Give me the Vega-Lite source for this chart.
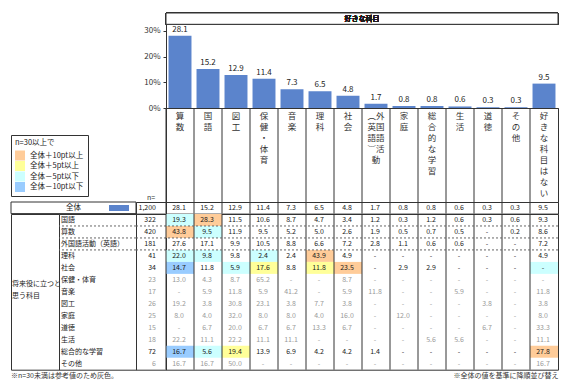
{
  "$schema": "https://vega.github.io/schema/vega-lite/v6.json",
  "padding": {"left": 10, "top": 12, "right": 5, "bottom": 2},
  "columns": 4,
  "spacing": 0,
  "bounds": "flush",
  "align": "each",
  "config": {
    "view": {"stroke": null},
    "font": "Noto Sans CJK JP",
    "text": {"fontSize": 7, "fill": "#1a1a1a"},
    "title": {"fontSize": 7, "fontWeight": "normal", "color": "#333"},
    "legend": {"labelFontSize": 7.5, "titleFontSize": 7.5, "titleFontWeight": "normal", "labelColor": "#222", "titleColor": "#222"}
  },
  "datasets": {
    "subjects": [
      {"subject": "算数", "pct": 28.1},
      {"subject": "国語", "pct": 15.2},
      {"subject": "図工", "pct": 12.9},
      {"subject": "保健・体育", "pct": 11.4},
      {"subject": "音楽", "pct": 7.3},
      {"subject": "理科", "pct": 6.5},
      {"subject": "社会", "pct": 4.8},
      {"subject": "外国語活動（英語）", "pct": 1.7},
      {"subject": "家庭", "pct": 0.8},
      {"subject": "総合的な学習", "pct": 0.8},
      {"subject": "生活", "pct": 0.6},
      {"subject": "道徳", "pct": 0.3},
      {"subject": "その他", "pct": 0.3},
      {"subject": "好きな科目はない", "pct": 9.5}
    ],
    "total": [{"row": "全体", "n": 1200}],
    "table": [
      {"row": "国語", "n": 322, "算数": 19.3, "国語": 28.3, "図工": 11.5, "保健・体育": 10.6, "音楽": 8.7, "理科": 4.7, "社会": 3.4, "外国語活動（英語）": 1.2, "家庭": 0.3, "総合的な学習": 1.2, "生活": 0.6, "道徳": 0.3, "その他": 0.6, "好きな科目はない": 9.3},
      {"row": "算数", "n": 420, "算数": 43.8, "国語": 9.5, "図工": 11.9, "保健・体育": 9.5, "音楽": 5.2, "理科": 5.0, "社会": 2.6, "外国語活動（英語）": 1.9, "家庭": 0.5, "総合的な学習": 0.7, "生活": 0.5, "道徳": 0, "その他": 0.2, "好きな科目はない": 8.6},
      {"row": "外国語活動（英語）", "n": 181, "算数": 27.6, "国語": 17.1, "図工": 9.9, "保健・体育": 10.5, "音楽": 8.8, "理科": 6.6, "社会": 7.2, "外国語活動（英語）": 2.8, "家庭": 1.1, "総合的な学習": 0.6, "生活": 0.6, "道徳": 0, "その他": 0, "好きな科目はない": 7.2},
      {"row": "理科", "n": 41, "算数": 22.0, "国語": 9.8, "図工": 9.8, "保健・体育": 2.4, "音楽": 2.4, "理科": 43.9, "社会": 4.9, "外国語活動（英語）": 0, "家庭": 0, "総合的な学習": 0, "生活": 0, "道徳": 0, "その他": 0, "好きな科目はない": 4.9},
      {"row": "社会", "n": 34, "算数": 14.7, "国語": 11.8, "図工": 5.9, "保健・体育": 17.6, "音楽": 8.8, "理科": 11.8, "社会": 23.5, "外国語活動（英語）": 0, "家庭": 2.9, "総合的な学習": 2.9, "生活": 0, "道徳": 0, "その他": 0, "好きな科目はない": 0},
      {"row": "保健・体育", "n": 23, "算数": 13.0, "国語": 4.3, "図工": 8.7, "保健・体育": 65.2, "音楽": 0, "理科": 0, "社会": 8.7, "外国語活動（英語）": 0, "家庭": 0, "総合的な学習": 0, "生活": 0, "道徳": 0, "その他": 0, "好きな科目はない": 0},
      {"row": "音楽", "n": 17, "算数": 0, "国語": 5.9, "図工": 11.8, "保健・体育": 5.9, "音楽": 41.2, "理科": 0, "社会": 5.9, "外国語活動（英語）": 11.8, "家庭": 0, "総合的な学習": 0, "生活": 5.9, "道徳": 0, "その他": 0, "好きな科目はない": 11.8},
      {"row": "図工", "n": 26, "算数": 19.2, "国語": 3.8, "図工": 30.8, "保健・体育": 23.1, "音楽": 3.8, "理科": 7.7, "社会": 3.8, "外国語活動（英語）": 0, "家庭": 0, "総合的な学習": 0, "生活": 0, "道徳": 3.8, "その他": 0, "好きな科目はない": 3.8},
      {"row": "家庭", "n": 25, "算数": 8.0, "国語": 4.0, "図工": 32.0, "保健・体育": 8.0, "音楽": 8.0, "理科": 4.0, "社会": 16.0, "外国語活動（英語）": 0, "家庭": 12.0, "総合的な学習": 0, "生活": 0, "道徳": 0, "その他": 0, "好きな科目はない": 8.0},
      {"row": "道徳", "n": 15, "算数": 0, "国語": 6.7, "図工": 20.0, "保健・体育": 6.7, "音楽": 6.7, "理科": 13.3, "社会": 6.7, "外国語活動（英語）": 0, "家庭": 0, "総合的な学習": 0, "生活": 0, "道徳": 6.7, "その他": 0, "好きな科目はない": 33.3},
      {"row": "生活", "n": 18, "算数": 22.2, "国語": 11.1, "図工": 22.2, "保健・体育": 11.1, "音楽": 11.1, "理科": 0, "社会": 0, "外国語活動（英語）": 0, "家庭": 0, "総合的な学習": 5.6, "生活": 5.6, "道徳": 0, "その他": 0, "好きな科目はない": 11.1},
      {"row": "総合的な学習", "n": 72, "算数": 16.7, "国語": 5.6, "図工": 19.4, "保健・体育": 13.9, "音楽": 6.9, "理科": 4.2, "社会": 4.2, "外国語活動（英語）": 1.4, "家庭": 0, "総合的な学習": 0, "生活": 0, "道徳": 0, "その他": 0, "好きな科目はない": 27.8},
      {"row": "その他", "n": 6, "算数": 16.7, "国語": 16.7, "図工": 50.0, "保健・体育": 0, "音楽": 0, "理科": 0, "社会": 0, "外国語活動（英語）": 0, "家庭": 0, "総合的な学習": 0, "生活": 0, "道徳": 0, "その他": 0, "好きな科目はない": 16.7}
    ],
    "hl": [
      {"row": "国語", "subject": "算数", "level": "全体－5pt以下"},
      {"row": "国語", "subject": "国語", "level": "全体＋10pt以上"},
      {"row": "算数", "subject": "算数", "level": "全体＋10pt以上"},
      {"row": "算数", "subject": "国語", "level": "全体－5pt以下"},
      {"row": "理科", "subject": "算数", "level": "全体－5pt以下"},
      {"row": "理科", "subject": "国語", "level": "全体－5pt以下"},
      {"row": "理科", "subject": "保健・体育", "level": "全体－5pt以下"},
      {"row": "理科", "subject": "理科", "level": "全体＋10pt以上"},
      {"row": "社会", "subject": "算数", "level": "全体－10pt以下"},
      {"row": "社会", "subject": "図工", "level": "全体－5pt以下"},
      {"row": "社会", "subject": "保健・体育", "level": "全体＋5pt以上"},
      {"row": "社会", "subject": "理科", "level": "全体＋5pt以上"},
      {"row": "社会", "subject": "社会", "level": "全体＋10pt以上"},
      {"row": "社会", "subject": "好きな科目はない", "level": "全体－5pt以下"},
      {"row": "総合的な学習", "subject": "算数", "level": "全体－10pt以下"},
      {"row": "総合的な学習", "subject": "国語", "level": "全体－5pt以下"},
      {"row": "総合的な学習", "subject": "図工", "level": "全体＋5pt以上"},
      {"row": "総合的な学習", "subject": "好きな科目はない", "level": "全体＋10pt以上"}
    ]
  },
  "concat": [
    {"width": 48, "height": 95, "data": {"values": [{}]}, "mark": "text", "encoding": {"text": {"value": ""}}},
    {"width": 77, "height": 95, "data": {"values": [{}]}, "mark": "text", "encoding": {"text": {"value": ""}}},
    {"width": 30, "height": 95, "data": {"values": [{}]}, "mark": "text", "encoding": {"text": {"value": ""}}},
    {
      "width": 392, "height": 95,
      "data": {"name": "subjects"},
      "layer": [
        {
          "mark": {"type": "bar"},
          "encoding": {
            "x": {"field": "subject", "type": "nominal", "sort": null,
              "scale": {"domain": ["算数","国語","図工","保健・体育","音楽","理科","社会","外国語活動（英語）","家庭","総合的な学習","生活","道徳","その他","好きな科目はない"], "paddingInner": 0.18, "paddingOuter": 0.09},
              "axis": {"title": null, "ticks": false, "domainColor": "#333", "labelAngle": 0, "labelFontSize": 8.5, "labelColor": "#333", "labelLineHeight": 11, "labelBaseline": "top", "labelPadding": 3, "labelOverlap": false, "labelBound": false, "labelFlush": false,
                "labelExpr": "datum.label == '外国語活動（英語）' ? ['︵外','英国','語語','︶活','　動'] : split(datum.label, '')"}},
            "y": {"field": "pct", "type": "quantitative", "title": null,
              "scale": {"domain": [0, 37], "nice": false},
              "axis": {"title": null, "tickCount": 4, "labelExpr": "datum.value + '%'", "tickSize": 3, "tickColor": "#333", "domainColor": "#333", "labelFontSize": 8, "labelColor": "#333", "labelPadding": 3, "grid": false, "labelOverlap": false, "labelFlush": false, "labelBound": false}},
            "color": {"datum": "全体", "type": "nominal", "scale": {"range": ["#5B84CC"]},
              "legend": {"orient": "none", "legendX": 98, "legendY": 185, "title": null, "symbolType": "M-1,-0.3H1V0.3H-1Z", "symbolSize": 400, "symbolStrokeWidth": 0, "labelExpr": "''", "padding": 0}}
          }
        },
        {
          "mark": {"type": "text", "fontSize": 8, "baseline": "bottom", "dy": -2, "fill": "#222"},
          "encoding": {
            "x": {"field": "subject", "type": "nominal", "sort": null},
            "y": {"field": "pct", "type": "quantitative", "title": null},
            "text": {"field": "pct", "type": "quantitative", "format": ".1f"}
          }
        },
        {
          "mark": {"type": "rect", "fill": "white", "stroke": "#333", "strokeWidth": 1},
          "encoding": {
            "y": {"datum": 32.6, "type": "quantitative", "title": null},
            "y2": {"datum": 37}
          }
        },
        {
          "mark": {"type": "text", "fontSize": 7},
          "encoding": {
            "y": {"datum": 34.8, "type": "quantitative", "title": null},
            "text": {"value": "好きな科目"}
          }
        }
      ]
    },
    {"width": 48, "height": 94, "data": {"values": [{}]}, "mark": "text", "encoding": {"text": {"value": ""}}},
    {"width": 77, "height": 94, "data": {"values": [{}]}, "mark": "text", "encoding": {"text": {"value": ""}}},
    {"width": 30, "height": 94, "data": {"values": [{}]}, "mark": "text", "encoding": {"text": {"value": ""}}},
    {
      "width": 392, "height": 94,
      "data": {"name": "subjects"},
      "view": {"stroke": "#333"},
      "mark": {"type": "rule", "color": "#333"},
      "encoding": {
        "x": {"field": "subject", "type": "nominal", "bandPosition": 0,
          "scale": {"type": "band", "domain": ["算数","国語","図工","保健・体育","音楽","理科","社会","外国語活動（英語）","家庭","総合的な学習","生活","道徳","その他","好きな科目はない"], "paddingInner": 0, "paddingOuter": 0},
          "axis": null}
      }
    },
    {
      "width": 48, "height": 11.6,
      "data": {"values": [{}]},
      "layer": [
        {"mark": {"type": "rule", "color": "#333"}, "encoding": {"y": {"value": 0}}},
        {"mark": {"type": "rule", "color": "#333"}, "encoding": {"y": {"value": "height"}}},
        {"mark": {"type": "rule", "color": "#333"}, "encoding": {"x": {"value": 0}}}
      ]
    },
    {
      "width": 77, "height": 11.6,
      "data": {"name": "total"},
      "layer": [
        {"mark": {"type": "rule", "color": "#333"}, "encoding": {"y": {"value": 0}}},
        {"mark": {"type": "rule", "color": "#333"}, "encoding": {"y": {"value": "height"}}},
        {"mark": {"type": "rule", "color": "#333"}, "encoding": {"x": {"value": "width"}}},
        {"mark": {"type": "text", "fontSize": 7.5, "align": "center", "dx": 14.5}, "encoding": {"x": {"value": 0}, "text": {"field": "row"}}}
      ]
    },
    {
      "width": 30, "height": 11.6,
      "data": {"name": "total"},
      "view": {"stroke": "#333"},
      "title": {"text": "n=", "orient": "top", "offset": 1, "fontSize": 7},
      "mark": {"type": "text", "align": "right", "dx": -10},
      "encoding": {
        "x": {"value": "width"},
        "text": {"field": "n", "type": "quantitative", "format": ",d"}
      }
    },
    {
      "width": 392, "height": 11.6,
      "data": {"name": "subjects"},
      "view": {"stroke": "#333"},
      "layer": [
        {
          "mark": {"type": "rule", "color": "#333"},
          "encoding": {
            "x": {"field": "subject", "type": "nominal", "bandPosition": 0,
              "scale": {"type": "band", "domain": ["算数","国語","図工","保健・体育","音楽","理科","社会","外国語活動（英語）","家庭","総合的な学習","生活","道徳","その他","好きな科目はない"], "paddingInner": 0, "paddingOuter": 0},
              "axis": null}
          }
        },
        {
          "mark": {"type": "text", "dx": -1},
          "encoding": {
            "x": {"field": "subject", "type": "nominal", "axis": null},
            "text": {"field": "pct", "type": "quantitative", "format": ".1f"}
          }
        }
      ]
    },
    {
      "width": 48, "height": 155.7,
      "data": {"values": [{}]},
      "view": {"stroke": "#333"},
      "title": {"text": "※n=30未満は参考値のため灰色。", "orient": "bottom", "anchor": "start", "offset": 2, "fontSize": 7},
      "mark": {"type": "text", "align": "left", "dx": 1, "dy": -8, "lineHeight": 12.6, "fontSize": 7},
      "encoding": {
        "x": {"value": 0},
        "text": {"value": ["将来役に立つと", "思う科目"]}
      }
    },
    {
      "width": 77, "height": 155.7,
      "data": {"name": "table"},
      "view": {"stroke": "#333"},
      "layer": [
        {
          "mark": {"type": "text", "align": "left", "dx": 2},
          "encoding": {
            "x": {"value": 0},
            "y": {"field": "row", "type": "nominal",
              "scale": {"type": "band", "domain": ["国語","算数","外国語活動（英語）","理科","社会","保健・体育","音楽","図工","家庭","道徳","生活","総合的な学習","その他"], "paddingInner": 0, "paddingOuter": 0},
              "axis": null},
            "text": {"field": "row"}
          }
        },
        {
          "transform": [{"filter": {"field": "row", "oneOf": ["国語", "算数", "外国語活動（英語）"]}}],
          "mark": {"type": "rule", "color": "#666", "strokeDash": [2, 2]},
          "encoding": {"y": {"field": "row", "type": "nominal", "bandPosition": 1}}
        }
      ]
    },
    {
      "width": 30, "height": 155.7,
      "data": {"name": "table"},
      "view": {"stroke": "#333"},
      "layer": [
        {
          "mark": {"type": "text", "align": "right", "dx": -10},
          "encoding": {
            "x": {"value": "width"},
            "y": {"field": "row", "type": "nominal",
              "scale": {"type": "band", "domain": ["国語","算数","外国語活動（英語）","理科","社会","保健・体育","音楽","図工","家庭","道徳","生活","総合的な学習","その他"], "paddingInner": 0, "paddingOuter": 0},
              "axis": null},
            "text": {"field": "n", "type": "quantitative", "format": ",d"},
            "color": {"condition": {"test": "datum.n < 30", "value": "#9a9a9a"}, "value": "#1a1a1a"}
          }
        },
        {
          "transform": [{"filter": {"field": "row", "oneOf": ["国語", "算数", "外国語活動（英語）"]}}],
          "mark": {"type": "rule", "color": "#666", "strokeDash": [2, 2]},
          "encoding": {"y": {"field": "row", "type": "nominal", "bandPosition": 1}}
        }
      ]
    },
    {
      "width": 392, "height": 155.7,
      "view": {"stroke": "#333"},
      "title": {"text": "※全体の値を基準に降順並び替え", "orient": "bottom", "anchor": "end", "offset": 2, "fontSize": 7},
      "layer": [
        {
          "data": {"name": "hl"},
          "mark": {"type": "rect"},
          "encoding": {
            "x": {"field": "subject", "type": "nominal",
              "scale": {"type": "band", "domain": ["算数","国語","図工","保健・体育","音楽","理科","社会","外国語活動（英語）","家庭","総合的な学習","生活","道徳","その他","好きな科目はない"], "paddingInner": 0, "paddingOuter": 0},
              "axis": null},
            "y": {"field": "row", "type": "nominal",
              "scale": {"type": "band", "domain": ["国語","算数","外国語活動（英語）","理科","社会","保健・体育","音楽","図工","家庭","道徳","生活","総合的な学習","その他"], "paddingInner": 0, "paddingOuter": 0},
              "axis": null},
            "fill": {"field": "level", "type": "nominal",
              "scale": {"domain": ["全体＋10pt以上", "全体＋5pt以上", "全体－5pt以下", "全体－10pt以下"], "range": ["#FFCC99", "#FFFF99", "#CCFFFF", "#99CCFF"]},
              "legend": {"title": "n=30以上で", "orient": "none", "legendX": 0, "legendY": 122, "strokeColor": "#333", "padding": 4, "symbolType": "square", "symbolSize": 100, "symbolStrokeWidth": 0, "rowPadding": 0.5, "titlePadding": 4, "labelOffset": 5}}
          }
        },
        {
          "data": {"name": "subjects"},
          "mark": {"type": "rule", "color": "#333"},
          "encoding": {"x": {"field": "subject", "type": "nominal", "bandPosition": 0}}
        },
        {
          "data": {"name": "table"},
          "transform": [{"filter": {"field": "row", "oneOf": ["国語", "算数", "外国語活動（英語）"]}}],
          "mark": {"type": "rule", "color": "#666", "strokeDash": [2, 2]},
          "encoding": {"y": {"field": "row", "type": "nominal", "bandPosition": 1}}
        },
        {
          "data": {"name": "table"},
          "transform": [{"fold": ["算数","国語","図工","保健・体育","音楽","理科","社会","外国語活動（英語）","家庭","総合的な学習","生活","道徳","その他","好きな科目はない"], "as": ["subject", "v"]}],
          "mark": {"type": "text", "dx": -1},
          "encoding": {
            "x": {"field": "subject", "type": "nominal"},
            "y": {"field": "row", "type": "nominal"},
            "text": {"condition": {"test": "datum.v == 0", "value": "-"}, "field": "v", "type": "quantitative", "format": ".1f"},
            "color": {"condition": {"test": "datum.n < 30", "value": "#9a9a9a"}, "value": "#1a1a1a"}
          }
        }
      ]
    }
  ]
}
